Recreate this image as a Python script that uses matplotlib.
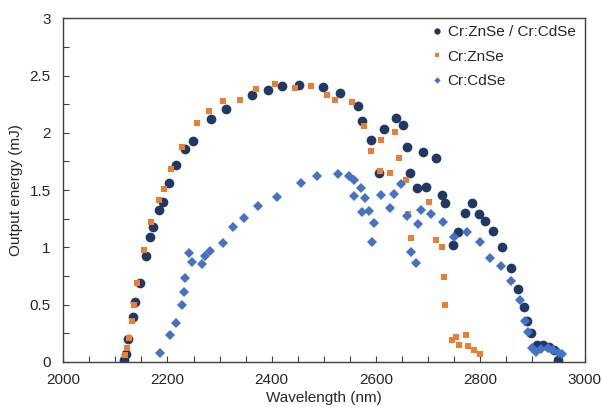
import matplotlib
matplotlib.use("Agg")
import matplotlib.pyplot as plt
from matplotlib.ticker import MultipleLocator, FuncFormatter

plt.rcParams["font.family"] = ["Liberation Sans", "DejaVu Sans"]

# Cr:ZnSe / Cr:CdSe (navy circles)
both_x = [2116, 2120, 2125, 2133, 2138, 2147, 2158, 2166, 2173, 2184, 2192, 2203,
          2217, 2234, 2248, 2284, 2313, 2363, 2392, 2420, 2453, 2499, 2531, 2566,
          2574, 2590, 2606, 2615, 2639, 2651, 2659, 2665, 2678, 2691, 2696, 2715,
          2726, 2733, 2748, 2758, 2770, 2784, 2797, 2809, 2824, 2841, 2859, 2873,
          2884, 2890, 2898, 2908, 2921, 2932, 2941, 2950]
both_y = [0.02, 0.07, 0.20, 0.39, 0.52, 0.69, 0.92, 1.09, 1.18, 1.33, 1.40, 1.56,
          1.72, 1.86, 1.93, 2.12, 2.21, 2.33, 2.37, 2.41, 2.42, 2.40, 2.35, 2.23,
          2.10, 1.94, 1.65, 2.03, 2.13, 2.07, 1.88, 1.645, 1.52, 1.835, 1.53, 1.78,
          1.46, 1.39, 1.02, 1.13, 1.30, 1.39, 1.29, 1.23, 1.14, 1.00, 0.82, 0.635,
          0.475, 0.36, 0.25, 0.146, 0.146, 0.13, 0.10, 0.02]

# Cr:ZnSe (orange squares)
znse_x = [2119, 2122, 2127, 2132, 2135, 2142, 2155, 2169, 2183, 2193, 2207, 2227,
          2257, 2279, 2307, 2340, 2369, 2407, 2444, 2475, 2506, 2522, 2554, 2577,
          2591, 2609, 2607, 2627, 2637, 2644, 2658, 2662, 2668, 2701, 2715, 2727,
          2730, 2733, 2745, 2753, 2760, 2773, 2776, 2788, 2800]
znse_y = [0.06, 0.12, 0.21, 0.36, 0.50, 0.69, 0.98, 1.22, 1.41, 1.51, 1.68, 1.88,
          2.09, 2.19, 2.28, 2.29, 2.38, 2.43, 2.39, 2.41, 2.33, 2.29, 2.27, 2.06,
          1.84, 1.94, 1.67, 1.65, 2.01, 1.78, 1.59, 1.29, 1.08, 1.40, 1.06, 1.005,
          0.74, 0.50, 0.19, 0.22, 0.15, 0.23, 0.14, 0.10, 0.07]

# Cr:CdSe (blue diamonds)
cdse_x = [2186, 2204, 2217, 2228, 2231, 2233, 2242, 2247, 2267, 2272, 2281, 2306,
          2326, 2346, 2373, 2411, 2456, 2486, 2528, 2548, 2557, 2572, 2557, 2579,
          2574, 2586, 2596, 2593, 2610, 2627, 2634, 2648, 2660, 2667, 2677, 2681,
          2687, 2706, 2728, 2749, 2774, 2799, 2818, 2840, 2859, 2877, 2885, 2892,
          2899, 2906, 2916, 2929, 2940, 2951, 2956]
cdse_y = [0.08, 0.23, 0.34, 0.50, 0.61, 0.73, 0.95, 0.87, 0.85, 0.92, 0.97, 1.04,
          1.18, 1.26, 1.36, 1.44, 1.56, 1.62, 1.64, 1.62, 1.59, 1.52, 1.45, 1.43,
          1.31, 1.32, 1.21, 1.05, 1.46, 1.34, 1.465, 1.55, 1.27, 0.96, 0.86, 1.20,
          1.33, 1.29, 1.22, 1.09, 1.13, 1.05, 0.91, 0.84, 0.71, 0.54, 0.36, 0.26,
          0.125, 0.09, 0.11, 0.125, 0.10, 0.08, 0.07]

navy = "#203864"
orange = "#ED7D31"
blue = "#4472C4"
text_c = "#262626"

fig = plt.figure(figsize=(6.02, 4.07), dpi=100)
ax = fig.add_axes([0.105, 0.111, 0.866, 0.844])

ax.plot(both_x, both_y, "o", color=navy, ms=7, mew=0, label="Cr:ZnSe / Cr:CdSe")
ax.plot(znse_x, znse_y, "s", color=orange, ms=4.5, mew=0, label="Cr:ZnSe")
ax.plot(cdse_x, cdse_y, "D", color=blue, ms=5, mew=0, label="Cr:CdSe")

ax.set_xlim(2000, 3000)
ax.set_ylim(0, 3)
ax.xaxis.set_major_locator(MultipleLocator(200))
ax.xaxis.set_minor_locator(MultipleLocator(50))
ax.yaxis.set_major_locator(MultipleLocator(0.5))
ax.yaxis.set_minor_locator(MultipleLocator(0.25))
ax.yaxis.set_major_formatter(FuncFormatter(lambda v, p: "%g" % v))

for s in ax.spines.values():
    s.set_color("#404040")
    s.set_linewidth(1.0)
ax.tick_params(which="both", direction="in", length=4, width=0.8, color="#404040",
               top=False, right=False, labelsize=11, labelcolor=text_c)
ax.tick_params(axis="x", pad=8)
ax.tick_params(axis="y", pad=9)

ax.set_xlabel("Wavelength (nm)", fontsize=11, color=text_c, labelpad=3)
ax.set_ylabel("Output energy (mJ)", fontsize=11, color=text_c, labelpad=5)

leg = ax.legend(loc="upper left", bbox_to_anchor=(0.705, 0.98), frameon=False,
                fontsize=11, markerscale=0.65, handlelength=0.8, handletextpad=0.3,
                labelspacing=0.68, borderaxespad=0, borderpad=0)
for t in leg.get_texts():
    t.set_color(text_c)

fig.savefig("out.png", dpi=100)
